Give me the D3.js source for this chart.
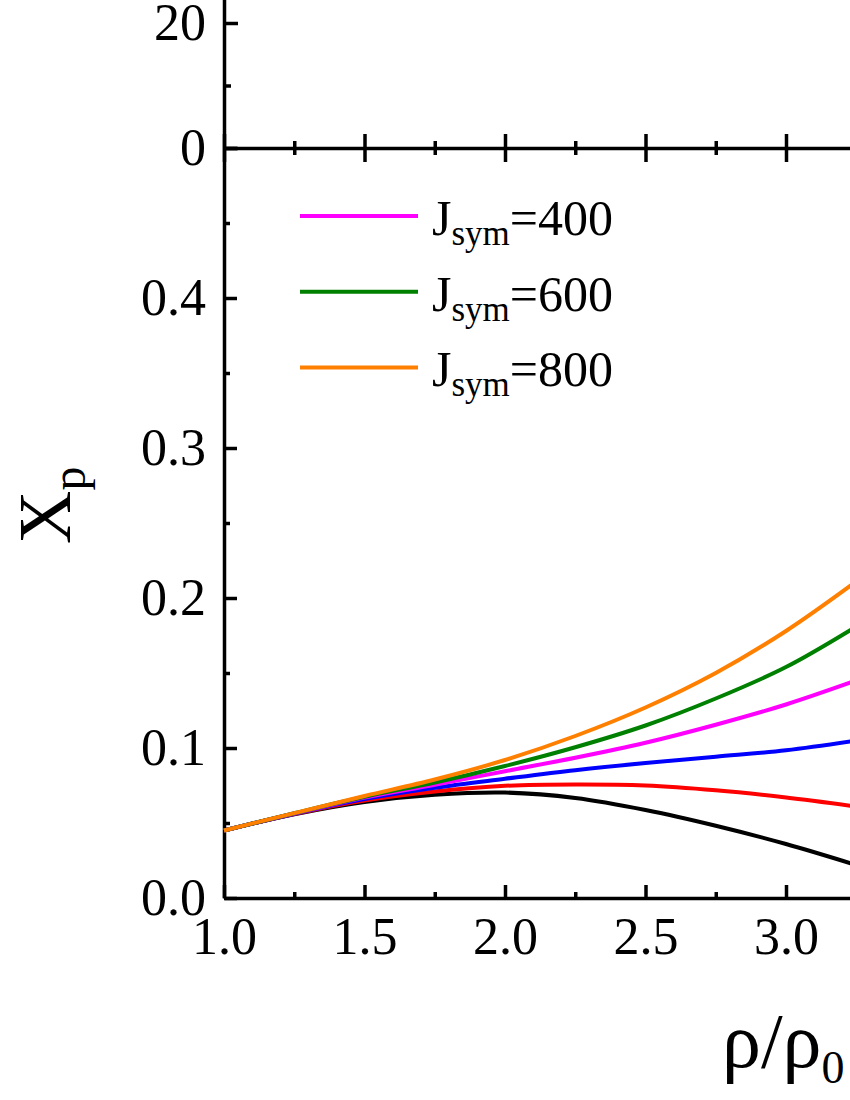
<!DOCTYPE html>
<html>
<head>
<meta charset="utf-8">
<script src="https://cdn.jsdelivr.net/npm/d3@7"></script>
<style>
  html, body { margin: 0; padding: 0; background: #fff; }
  svg { display: block; font-family: "Liberation Serif", "Times New Roman", serif; }
  .axis path, .axis line { stroke: #000; stroke-width: 3.5; }
  .axis text { font-size: 52px; fill: #000; font-family: "Liberation Serif", serif; }
</style>
</head>
<body>
<div id="chart"></div>
<script>
// density grid (rho/rho0)
const rho = [1.0, 1.25, 1.5, 1.75, 2.0, 2.25, 2.5, 2.75, 3.0, 3.25];

// proton fraction curves
const xpBlack   = [0.045, 0.0558, 0.064, 0.0688, 0.0703, 0.0667, 0.0587, 0.0482, 0.036, 0.022];
const xpRed     = [0.045, 0.0560, 0.065, 0.071, 0.0748, 0.0757, 0.0750, 0.0718, 0.067, 0.061];
const xpBlue    = [0.045, 0.0562, 0.066, 0.0735, 0.0795, 0.0852, 0.0900, 0.0942, 0.0985, 0.105];
const xpMagenta = [0.045, 0.0563, 0.067, 0.0755, 0.0845, 0.0935, 0.1035, 0.1155, 0.129, 0.145];
const xpGreen   = [0.045, 0.0565, 0.0675, 0.077, 0.088, 0.1005, 0.115, 0.133, 0.154, 0.181];
const xpOrange  = [0.045, 0.0566, 0.068, 0.079, 0.092, 0.108, 0.127, 0.150, 0.178, 0.211];

const seriesColors = ["#000000", "#ff0000", "#0000ff", "#ff00ff", "#008000", "#ff8000"];

// legend
const legendLabels = ["400", "600", "800"];
const legendColors = ["#ff00ff", "#008000", "#ff8000"];

// ticks
const xMajorTicks = [1.0, 1.5, 2.0, 2.5, 3.0];
const xMinorTicks = [1.25, 1.75, 2.25, 2.75];
const yMajorTicks = [0.0, 0.1, 0.2, 0.3, 0.4, 0.5];
const yMinorTicks = [0.05, 0.15, 0.25, 0.35, 0.45];
const topMajorTicks = [0, 20];
const topMinorTicks = [10];

const width = 850, height = 1100;

const svg = d3.select("#chart").append("svg")
  .attr("width", width)
  .attr("height", height);

const x = d3.scaleLinear().domain([1, 3.25]).range([224, 856.25]);
const y = d3.scaleLinear().domain([0, 0.5]).range([898, 148]);
const yTop = d3.scaleLinear().domain([0, 24]).range([148, -2]);

// --- top panel (only its lower part shows) ---
svg.append("g").attr("class", "axis")
  .attr("transform", "translate(224,0)")
  .call(d3.axisLeft(yTop).tickValues(topMajorTicks).tickSize(-14).tickSizeOuter(0).tickPadding(18)
    .tickFormat(d3.format("d")));
svg.append("g").attr("class", "axis")
  .attr("transform", "translate(224,0)")
  .call(d3.axisLeft(yTop).tickValues(topMinorTicks).tickSize(-7).tickSizeOuter(0).tickFormat(""))
  .select(".domain").remove();

svg.append("g").attr("class", "axis")
  .attr("transform", "translate(0,148)")
  .call(d3.axisBottom(x).tickValues(xMajorTicks).tickSize(-14).tickSizeOuter(0).tickFormat(""));
svg.append("g").attr("class", "axis")
  .attr("transform", "translate(0,148)")
  .call(d3.axisBottom(x).tickValues(xMinorTicks).tickSize(-7).tickSizeOuter(0).tickFormat(""))
  .select(".domain").remove();

// --- bottom panel ---
svg.append("g").attr("class", "axis")
  .attr("transform", "translate(0,148)")
  .call(d3.axisTop(x).tickValues(xMajorTicks).tickSize(-14).tickSizeOuter(0).tickFormat(""))
  .select(".domain").remove();
svg.append("g").attr("class", "axis")
  .attr("transform", "translate(0,148)")
  .call(d3.axisTop(x).tickValues(xMinorTicks).tickSize(-7).tickSizeOuter(0).tickFormat(""))
  .select(".domain").remove();

svg.append("g").attr("class", "axis")
  .attr("transform", "translate(224,0)")
  .call(d3.axisLeft(y).tickValues(yMajorTicks).tickSize(-13).tickSizeOuter(0).tickPadding(18)
    .tickFormat(d => d >= 0.5 ? "" : d3.format(".1f")(d)));
svg.append("g").attr("class", "axis")
  .attr("transform", "translate(224,0)")
  .call(d3.axisLeft(y).tickValues(yMinorTicks).tickSize(-6).tickSizeOuter(0).tickFormat(""))
  .select(".domain").remove();

svg.append("g").attr("class", "axis")
  .attr("transform", "translate(0,898)")
  .call(d3.axisBottom(x).tickValues(xMajorTicks).tickSize(-13).tickSizeOuter(0).tickPadding(19)
    .tickFormat(d3.format(".1f")));
svg.append("g").attr("class", "axis")
  .attr("transform", "translate(0,898)")
  .call(d3.axisBottom(x).tickValues(xMinorTicks).tickSize(-6).tickSizeOuter(0).tickFormat(""))
  .select(".domain").remove();

// curves
const allSeries = [xpBlack, xpRed, xpBlue, xpMagenta, xpGreen, xpOrange];
const line = d3.line()
  .x((d, i) => x(rho[i]))
  .y(d => y(d))
  .curve(d3.curveCatmullRom.alpha(0.5));

svg.append("g").selectAll("path")
  .data(allSeries)
  .join("path")
  .attr("d", line)
  .attr("fill", "none")
  .attr("stroke", (d, i) => seriesColors[i])
  .attr("stroke-width", 4);

// legend
const leg = svg.append("g").selectAll("g")
  .data(legendLabels)
  .join("g")
  .attr("transform", (d, i) => `translate(300,${216 + i * 75.7})`);
leg.append("line")
  .attr("x1", 0).attr("x2", 118)
  .attr("stroke", (d, i) => legendColors[i])
  .attr("stroke-width", 4);
const lt = leg.append("text")
  .attr("x", 132).attr("y", 19)
  .attr("font-size", 50);
lt.append("tspan").text("J");
lt.append("tspan").attr("font-size", 35).attr("dy", 10).text("sym");
lt.append("tspan").attr("dy", -10).text(d => "=" + d);

// axis titles
const yt = svg.append("text")
  .attr("transform", "translate(70,544) rotate(-90)")
  .attr("font-size", 74);
yt.append("tspan").text("X");
yt.append("tspan").attr("font-size", 48).attr("dy", 15).text("p");

const xt = svg.append("text")
  .attr("x", 722).attr("y", 1067)
  .attr("font-size", 78);
xt.append("tspan").text("ρ/ρ");
xt.append("tspan").attr("font-size", 46).attr("dy", 16).text("0");
</script>
</body>
</html>
